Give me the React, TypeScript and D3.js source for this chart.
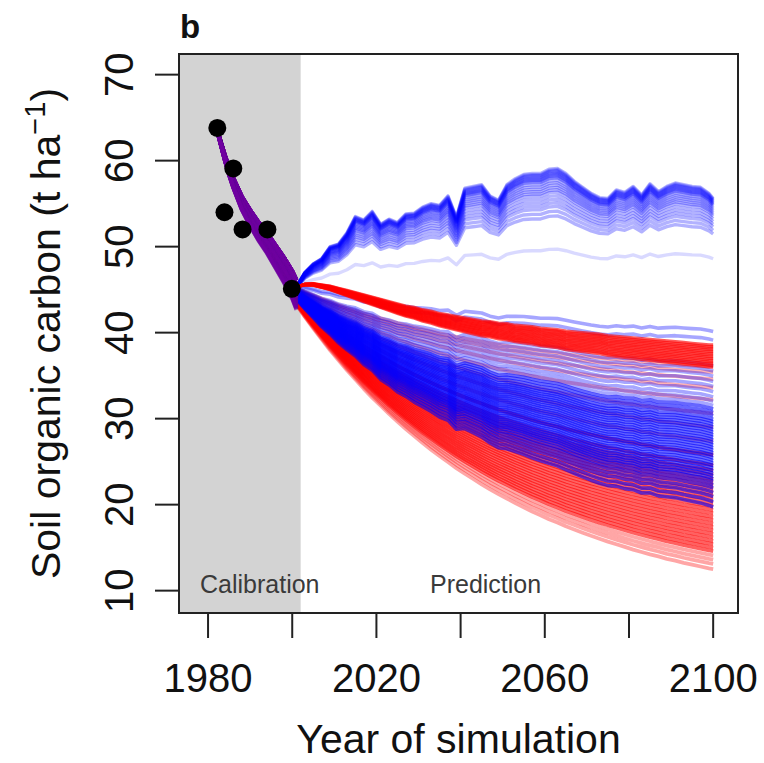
import React from 'react';
import * as d3 from 'd3';

// observed soil carbon (calibration data)
const obsYears = [1982.2, 1983.9, 1986.0, 1988.2, 1994.1, 1999.9];
const obsSoc = [63.8, 54.0, 59.1, 52.0, 52.0, 45.1];

// calibration period: share of the drop from the 1982 value reached by each year
const calibYears = [1982, 1983, 1984, 1985, 1986, 1988, 1990, 1992, 1994, 1996, 1998, 2000, 2001];
const calibShare = [0, 0.09, 0.18, 0.26, 0.33, 0.45, 0.54, 0.62, 0.69, 0.77, 0.85, 0.94, 1];
const calibStart = 63.8;

// prediction period, every second year
const simYears = d3.range(2001, 2100, 2).concat([2100]);

// top edge of the rising blue bundle
const upperBlueTop = [
  45.3, 47.0, 48.0, 48.6, 50.0, 50.3, 51.6, 53.5, 53.1, 54.1,
  52.6, 53.2, 52.8, 53.8, 53.9, 54.6, 55.0, 54.8, 55.9, 53.4,
  56.8, 57.0, 57.2, 55.9, 55.4, 57.2, 57.9, 58.4, 58.5, 58.5,
  59.0, 59.1, 58.5, 57.6, 56.9, 56.2, 55.7, 55.6, 56.6, 56.3,
  57.0, 56.0, 57.3, 56.4, 57.0, 57.4, 57.2, 57.0, 56.9, 56.2, 55.6,
];
// year-to-year climate wiggle seen in the blue runs
const climateAnomaly = [
  0, 0, 0, -0.4, 0.3, -0.2, 0.3, 1.0, 0.2, 0.8,
  -1.0, -0.5, -1.1, -0.3, -0.4, 0.1, 0.3, -0.1, 0.8, -1.9,
  1.3, 1.3, 1.3, -0.2, -0.9, 0.7, 1.2, 1.5, 1.4, 1.3,
  1.7, 1.8, 1.2, 0.4, -0.3, -0.9, -1.4, -1.5, -0.5, -0.8,
  -0.1, -1.1, 0.2, -0.7, -0.1, 0.3, 0.1, -0.1, -0.2, -0.9, -1.5,
];
// share of the 2001-2100 loss reached by each year (declining runs)
const decayShare = [
  0, 0.046, 0.089, 0.131, 0.172, 0.21, 0.248, 0.283, 0.318, 0.351,
  0.382, 0.413, 0.442, 0.47, 0.497, 0.523, 0.548, 0.572, 0.595, 0.618,
  0.639, 0.659, 0.679, 0.698, 0.716, 0.733, 0.75, 0.766, 0.782, 0.796,
  0.811, 0.824, 0.838, 0.85, 0.862, 0.874, 0.885, 0.896, 0.906, 0.916,
  0.926, 0.935, 0.944, 0.952, 0.961, 0.968, 0.976, 0.983, 0.99, 0.997, 1.0,
];
// centre of the slowly declining red bundle
const redSlowCentre = [
  45.3, 45.6, 45.6, 45.4, 45.2, 44.9, 44.6, 44.3, 44.0, 43.7,
  43.4, 43.1, 42.8, 42.5, 42.3, 42.0, 41.8, 41.5, 41.3, 41.1,
  40.9, 40.7, 40.5, 40.4, 40.2, 40.1, 39.9, 39.8, 39.7, 39.5,
  39.4, 39.3, 39.1, 39.0, 38.9, 38.8, 38.7, 38.5, 38.4, 38.3,
  38.2, 38.1, 38.0, 37.9, 37.8, 37.7, 37.6, 37.5, 37.4, 37.3, 37.3,
];
const redSlowSpread = [-1.3, -1.1, -0.9, -0.7, -0.5, -0.3, -0.1, 0.1, 0.3, 0.5, 0.7, 0.9, 1.1, 1.3];

const upperBlueScale = [1.0, 0.99, 0.98, 0.97, 0.96, 0.95, 0.94, 0.93, 0.92, 0.9, 0.88, 0.86, 0.84, 0.82, 0.8, 0.77, 0.74, 0.71, 0.68, 0.64, 0.6, 0.32];
const lowerBlueEnds = [
  40.4, 39.4, 36.4, 35.8, 35.2, 34.6, 34.0, 33.4, 32.8, 32.3, 31.8, 31.4,
  31.0, 30.6, 30.2, 29.9, 29.6, 29.3, 29.0, 28.7, 28.4, 28.1, 27.8, 27.5,
  27.2, 26.9, 26.6, 26.3, 26.0, 25.7, 25.4, 25.1, 24.8, 24.5, 24.2, 23.9,
  23.6, 23.3, 23.0, 22.6, 22.2, 21.7, 21.2, 20.6, 20.0,
];
const lowerRedEnds = [
  36.0, 35.4, 34.6, 33.6, 32.2, 30.6, 29.0, 27.4, 25.8, 24.6, 24.0, 23.5,
  23.0, 22.6, 22.2, 21.8, 21.4, 21.0, 20.6, 20.2, 19.8, 19.4, 19.0, 18.6,
  18.2, 17.8, 17.4, 17.0, 16.6, 16.2, 15.8, 15.4, 15.0, 14.6, 14.1, 13.6,
  13.1, 12.5,
];

const xTicks = [1980, 2000, 2020, 2040, 2060, 2080, 2100];
const xLabels = [1980, 2020, 2060, 2100];
const yTicks = [10, 20, 30, 40, 50, 60, 70];
const calibEnd = 2002;

const FONT = "'Liberation Sans', Arial, Helvetica, sans-serif";

type Pt = [number, number];

const App = () => {
  const width = 764, height = 763;
  const x = d3.scaleLinear().domain([1973.1, 2105.9]).range([179, 738]);
  const y = d3.scaleLinear().domain([7.4, 72.4]).range([613, 54]);
  const [x0, x1] = x.range();
  const [y0, y1] = y.range();

  const line = d3.line<Pt>().x(d => x(d[0])).y(d => y(d[1]));

  const upperStart = upperBlueTop[0];
  const lowerStart = (end: number) => 43.2 + 2.3 * (end - 12) / 28;

  const calib = (s: number): Pt[] => calibYears.map((yr, i) => [yr, calibStart - (calibStart - s) * calibShare[i]]);

  const upperBlue: Pt[][] = upperBlueScale.map(s =>
    simYears.map((yr, i) => [yr, upperStart + (upperBlueTop[i] - upperStart) * s]));
  const lowerBlue: Pt[][] = lowerBlueEnds.map(e => {
    const s = lowerStart(e);
    return simYears.map((yr, i) => [yr, s - (s - e) * decayShare[i] + 0.18 * climateAnomaly[i]]);
  });
  const lowerRed: Pt[][] = lowerRedEnds.map(e => {
    const s = lowerStart(e);
    return simYears.map((yr, i) => [yr, s - (s - e) * decayShare[i]]);
  });
  const redSlow: Pt[][] = redSlowSpread.map(o =>
    simYears.map((yr, i) => [yr, redSlowCentre[i] + o * decayShare[i]]));

  const calibLines = [
    ...upperBlueScale.map(() => calib(upperStart + 0.8)),
    ...redSlowSpread.map(() => calib(upperStart + 0.3)),
    ...lowerBlueEnds.map(e => calib(lowerStart(e))),
    ...lowerRedEnds.map(e => calib(lowerStart(e) - 0.6)),
  ];

  return (
    <svg width={width} height={height} style={{ position: 'absolute', left: 0, top: 0, background: '#fff' }}
      fontFamily={FONT}>
      <rect x={0} y={0} width={width} height={height} fill="#fff" />
      <rect x={x0} y={y1} width={x(calibEnd) - x0} height={y0 - y1} fill="#d3d3d3" />

      <g fill="none" strokeLinejoin="round">
        {upperBlue.map((d, i) => <path key={'ub' + i} d={line(d) || ''} stroke="#0000ff" strokeWidth={3.4} strokeOpacity={i === upperBlue.length - 1 ? 0.15 : 0.3} />)}
        {lowerRed.map((d, i) => <path key={'lr' + i} d={line(d) || ''} stroke="#ff0000" strokeWidth={3.8}
          strokeOpacity={lowerRedEnds[i] < 14.5 ? 0.35 : lowerRedEnds[i] > 26 ? 0.3 : 0.62} />)}
        {lowerBlue.map((d, i) => <path key={'lb' + i} d={line(d) || ''} stroke="#0000ff" strokeWidth={3.6}
          strokeOpacity={lowerBlueEnds[i] > 31.5 ? 0.35 : 0.6} />)}
        {redSlow.map((d, i) => <path key={'rs' + i} d={line(d) || ''} stroke="#ff0000" strokeWidth={3} strokeOpacity={0.65} />)}
        {calibLines.map((d, i) => <path key={'cl' + i} d={line(d) || ''} stroke="rgb(112,0,160)" strokeWidth={4} strokeOpacity={0.35} />)}
      </g>

      {obsYears.map((yr, i) => <circle key={'o' + i} cx={x(yr)} cy={y(obsSoc[i])} r={9} fill="#000" />)}

      <text x={200} y={593} fontSize={25} fill="#3a3a3a">Calibration</text>
      <text x={430} y={593} fontSize={25} fill="#3a3a3a">Prediction</text>

      <rect x={x0} y={y1} width={x1 - x0} height={y0 - y1} fill="none" stroke="#222" strokeWidth={2} />

      <g stroke="#222" strokeWidth={2}>
        {xTicks.map(t => <line key={'xt' + t} x1={x(t)} x2={x(t)} y1={y0} y2={y0 + 25} />)}
        {yTicks.map(t => <line key={'yt' + t} x1={x0 - 24} x2={x0} y1={y(t)} y2={y(t)} />)}
      </g>
      <g fontSize={40} fill="#111" textAnchor="middle">
        {xLabels.map(t => <text key={'xl' + t} x={x(t)} y={692}>{t}</text>)}
        {yTicks.map(t => <text key={'yl' + t} transform={`translate(133,${y(t)}) rotate(-90)`}>{t}</text>)}
      </g>

      <text x={(x0 + x1) / 2} y={753} fontSize={41} textAnchor="middle" fill="#111">Year of simulation</text>
      <text transform={`translate(60,${(y0 + y1) / 2}) rotate(-90)`} fontSize={41} textAnchor="middle" fill="#111">
        Soil organic carbon (t ha<tspan dy={-15} fontSize={29}>−1</tspan><tspan dy={15}>)</tspan>
      </text>
      <text x={180} y={38} fontSize={33} fontWeight="bold" fill="#111">b</text>
    </svg>
  );
};

export default App;
